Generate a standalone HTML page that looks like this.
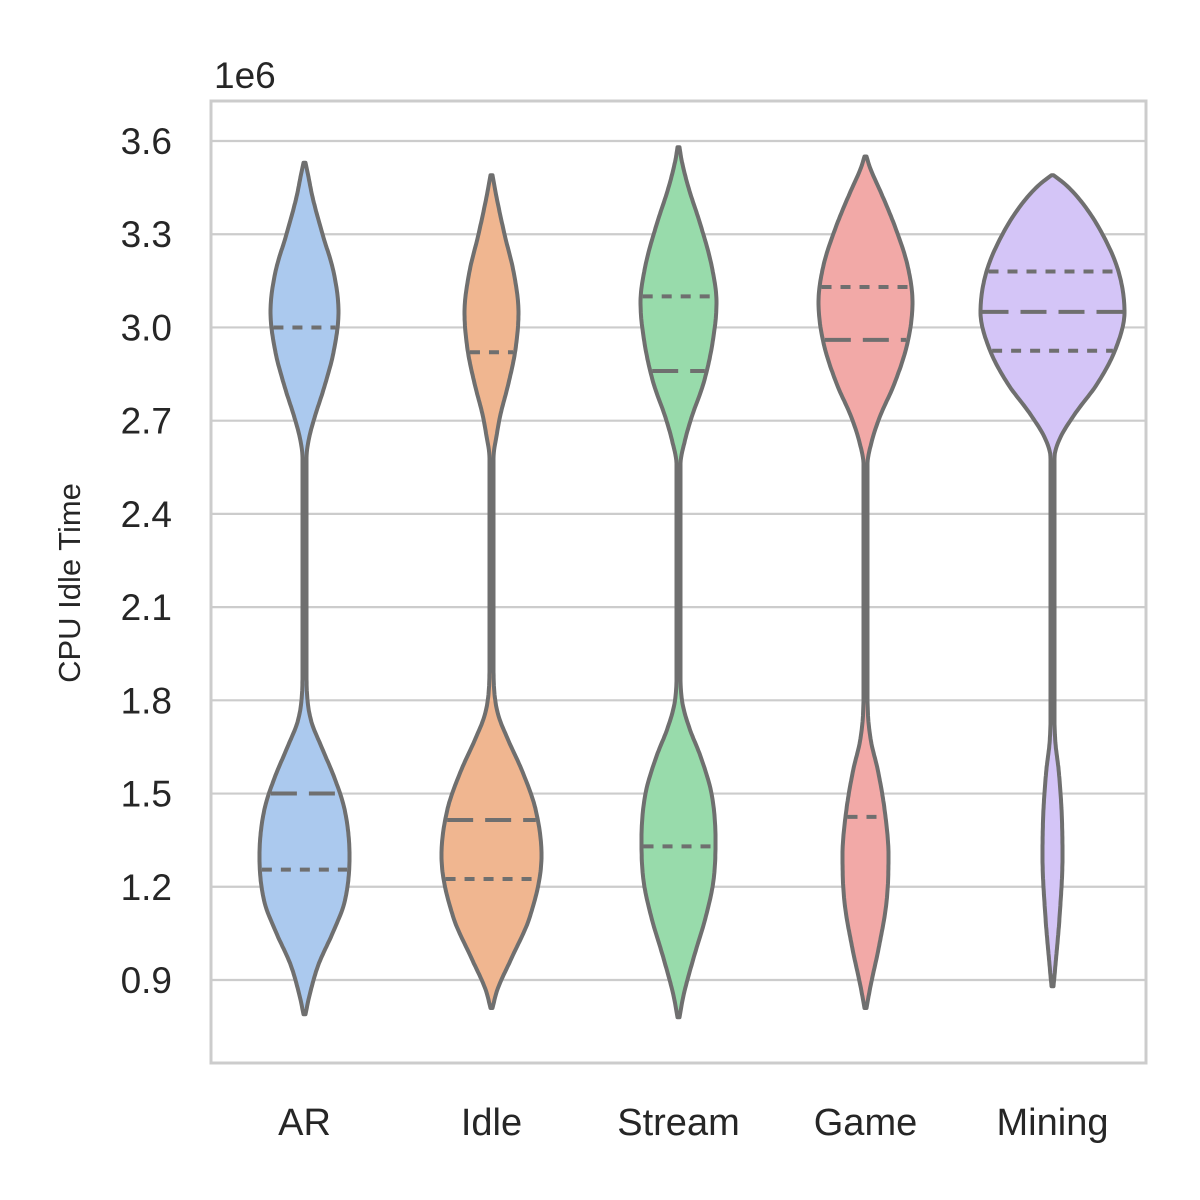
<!DOCTYPE html>
<html><head><meta charset="utf-8"><style>
html,body{margin:0;padding:0;background:#fff}
svg{display:block}
text{font-family:"Liberation Sans",Arial,sans-serif;fill:#262626}
</style></head><body>
<svg id="chart" width="1200" height="1200" viewBox="0 0 1200 1200" xmlns="http://www.w3.org/2000/svg">
<rect width="1200" height="1200" fill="#fff"/>
<g id="grid"></g>
<g id="violins"></g>
<g id="axes"></g>
</svg>
<script>
const categories=["AR","Idle","Stream","Game","Mining"];
const colors=["#abc9ee","#f0b690","#98dbab","#f2a9a7","#d4c5f7"];
const yTicks=[0.9,1.2,1.5,1.8,2.1,2.4,2.7,3.0,3.3,3.6];
const yTickLabels=["0.9","1.2","1.5","1.8","2.1","2.4","2.7","3.0","3.3","3.6"];
// density profiles: [value (1e6), half-width in px]
const profAR=[[0.79,1],[0.85,5],[0.95,14],[1.05,28],[1.15,40],[1.3,45],[1.45,40],[1.55,30],[1.65,17],[1.73,7],[1.8,3],[1.9,2],[2.58,2],[2.65,5],[2.72,11],[2.8,19],[2.92,29],[3.05,34],[3.18,29],[3.3,18],[3.42,8],[3.5,3],[3.53,1]];
const profIdle=[[0.81,1],[0.87,6],[0.97,20],[1.1,38],[1.3,50],[1.45,44],[1.57,31],[1.67,17],[1.75,7],[1.82,3],[1.92,2],[2.58,2],[2.65,5],[2.72,9],[2.82,17],[2.93,24],[3.05,27],[3.18,22],[3.3,13],[3.42,5],[3.49,1]];
const profStream=[[0.78,1],[0.85,5],[0.97,15],[1.1,27],[1.22,35],[1.35,37],[1.5,33],[1.62,22],[1.71,11],[1.79,4],[1.88,2],[2.56,2],[2.63,6],[2.71,13],[2.82,25],[2.95,34],[3.08,38],[3.2,33],[3.33,22],[3.45,10],[3.54,3],[3.58,1]];
const profGame=[[0.81,1],[0.88,5],[1.0,13],[1.15,21],[1.3,23],[1.45,19],[1.58,12],[1.66,6],[1.73,3],[1.82,2],[2.56,2],[2.63,6],[2.71,14],[2.82,29],[2.95,42],[3.08,47],[3.2,42],[3.32,30],[3.43,16],[3.51,5],[3.55,1]];
const profMining=[[0.88,1],[0.95,3],[1.1,7],[1.3,10],[1.45,9],[1.58,6],[1.66,3],[1.74,2],[2.58,2],[2.64,7],[2.72,22],[2.82,45],[2.93,63],[3.05,72],[3.18,66],[3.3,50],[3.4,30],[3.46,13],[3.49,1]];
const profiles=[profAR,profIdle,profStream,profGame,profMining];
// quartile lines: [q1, median, q3]
const q1=[1.255,1.225,1.33,1.425,2.925];
const med=[1.50,1.415,2.86,2.96,3.05];
const q3=[3.0,2.92,3.10,3.13,3.18];

const NS="http://www.w3.org/2000/svg";
const L=211,R=1146,T=101,B=1063;
function yScale(v){return 980-(v-0.9)*(839/2.7);}
function xScale(i){return L+(R-L)/categories.length*(i+0.5);}
function mk(tag,attrs,parent){const e=document.createElementNS(NS,tag);for(const k in attrs)e.setAttribute(k,attrs[k]);parent.appendChild(e);return e;}
const grid=document.getElementById('grid'),vg=document.getElementById('violins'),ax=document.getElementById('axes');

yTicks.forEach((t,i)=>{
  const y=yScale(t);
  const ln=mk('line',{x1:L,x2:R,y1:y,y2:y,stroke:'#cccccc','stroke-width':2.2},grid);
  
  
  const tx=mk('text',{x:172,y:y+13,'text-anchor':'end','font-size':37},ax);
  tx.textContent=yTickLabels[i];
  
  
});

function monotone(p){
  const n=p.length,xs=p.map(q=>q[0]),ys=p.map(q=>q[1]);
  const d=[],m=[];
  for(let i=0;i<n-1;i++)d.push((ys[i+1]-ys[i])/(xs[i+1]-xs[i]));
  m[0]=d[0];m[n-1]=d[n-2];
  for(let i=1;i<n-1;i++){m[i]=(d[i-1]*d[i]<=0)?0:(d[i-1]+d[i])/2;}
  for(let i=0;i<n-1;i++){
    if(d[i]===0){m[i]=0;m[i+1]=0;continue;}
    const a=m[i]/d[i],b=m[i+1]/d[i],s=a*a+b*b;
    if(s>9){const t=3/Math.sqrt(s);m[i]=t*a*d[i];m[i+1]=t*b*d[i];}
  }
  return function(v){
    for(let i=0;i<n-1;i++){
      if(v>=xs[i]&&v<=xs[i+1]){
        const h=xs[i+1]-xs[i],t=(v-xs[i])/h,t2=t*t,t3=t2*t;
        return (2*t3-3*t2+1)*ys[i]+(t3-2*t2+t)*h*m[i]+(-2*t3+3*t2)*ys[i+1]+(t3-t2)*h*m[i+1];
      }
    }
    return 0;
  };
}
profiles.forEach((p,i)=>{
  const cx=xScale(i);
  const f=monotone(p);
  const v0=p[0][0],v1=p[p.length-1][0];
  const N=300,rs=[],ls=[];
  for(let k=0;k<=N;k++){const v=v0+(v1-v0)*k/N;const w=Math.max(0,f(v));rs.push([cx+w,yScale(v)]);ls.push([cx-w,yScale(v)]);}
  const pts=rs.concat(ls.reverse());
  const d='M'+pts.map(q=>q[0].toFixed(1)+','+q[1].toFixed(1)).join(' L')+' Z';
  const g=mk('g',{},vg);
  
  
  const path=mk('path',{d:d,fill:colors[i],stroke:'#6f6f6f','stroke-width':4,'stroke-linejoin':'round'},g);
  
  
  [[q1[i],'10,9'],[med[i],'26,12'],[q3[i],'10,9']].forEach(([v,dash],k)=>{
    const w=f(v)-2,y=yScale(v);
    const ln=mk('line',{x1:cx-w,x2:cx+w,y1:y,y2:y,stroke:'#6f6f6f','stroke-width':4,'stroke-dasharray':dash},g);
    
    
  });
  const tx=mk('text',{x:cx,y:1135,'text-anchor':'middle','font-size':38},ax);
  tx.textContent=categories[i];
  
  
});

const fr=mk('rect',{x:L,y:T,width:R-L,height:B-T,fill:'none',stroke:'#cccccc','stroke-width':3},ax);


const off=mk('text',{x:214,y:88,'font-size':37},ax);
off.textContent='1e6';


const yl=mk('text',{x:0,y:0,'font-size':31,'text-anchor':'middle',transform:'translate(80,583) rotate(-90)'},ax);
yl.textContent='CPU Idle Time';


</script>
</body></html>
